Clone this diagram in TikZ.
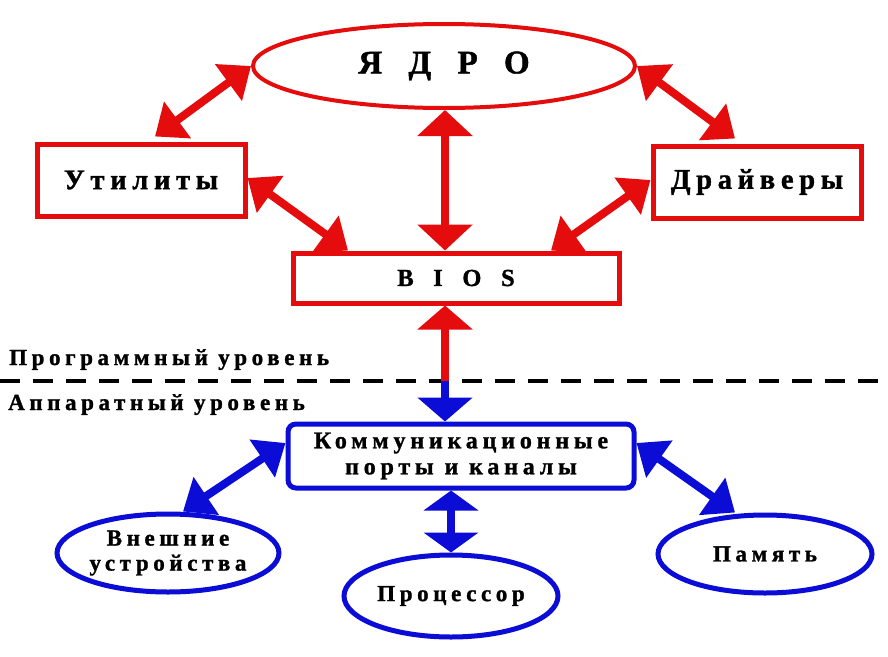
\documentclass[tikz,border=0pt]{standalone}
\usepackage{fontspec}
\setmainfont{Liberation Serif}
\newfontfamily\lblfont[LetterSpace=20,FakeBold=1.2]{Liberation Serif}
\newfontfamily\spacedfont[LetterSpace=80,FakeBold=1.2]{Liberation Serif}
\usetikzlibrary{shapes.geometric,arrows.meta,positioning}
\definecolor{schemered}{RGB}{228,12,12}
\definecolor{schemeblue}{RGB}{12,12,215}
\tikzset{
  redbox/.style={draw=schemered,line width=5pt,rectangle,inner sep=0pt,
    minimum width=208pt,minimum height=72pt,font=\lblfont\bfseries\fontsize{28.5}{30}\selectfont},
  blueoval/.style={ellipse,draw=schemeblue,line width=5pt,inner sep=0pt,
    minimum width=214pt,minimum height=78pt,align=center,
    font=\lblfont\bfseries\fontsize{23}{25}\selectfont},
  dblred/.style={draw=schemered,line width=8pt,
    {Triangle[width=44pt,length=28pt]}-{Triangle[width=44pt,length=28pt]}},
  dblblue/.style={draw=schemeblue,line width=8pt,
    {Triangle[width=44pt,length=28pt]}-{Triangle[width=44pt,length=28pt]}},
  level/.style={font=\lblfont\bfseries\fontsize{23}{25}\selectfont,anchor=base west,inner sep=0pt}
}
\begin{document}
\begin{tikzpicture}[x=1pt,y=-1pt,line cap=butt,line join=miter]
  \useasboundingbox[fill=white] (0,0) rectangle (888,656);
  % software level
  \node[ellipse,draw=schemered,line width=4pt,inner sep=0pt,minimum width=382pt,
    minimum height=84pt,font=\spacedfont\bfseries\fontsize{33}{35}\selectfont] (yadro) at (444,66) {ЯДРО};
  \node[redbox] (util) at (141,180) {Утилиты};
  \node[redbox] (drv) at (757,182) {Драйверы};
  \node[redbox,minimum width=326pt,minimum height=50pt,
    font=\spacedfont\bfseries\fontsize{24.5}{26}\selectfont] (bios) at (456,278) {BIOS};
  \draw[dblred] (yadro.west) -- ([xshift=14pt,yshift=5pt]util.north);
  \draw[dblred] (yadro.east) -- ([xshift=-22pt,yshift=5pt]drv.north);
  \draw[dblred] ([yshift=2pt]util.east) -- ([xshift=-108pt]bios.north);
  \draw[dblred] ([yshift=2pt]drv.west) -- ([xshift=95pt]bios.north);
  \draw[dblred,{Triangle[width=54pt,length=26pt]}-{Triangle[width=54pt,length=26pt]}]
    ([xshift=1pt]yadro.south) -- ([xshift=1pt]yadro.south |- bios.north);
  % border between levels
  \node[level] (prog) at (9,365) {Программный уровень};
  \draw[line width=4pt,dash pattern=on 20pt off 13pt] (0,381) -- (888,381);
  \node[level] (hard) at (8,410) {Аппаратный уровень};
  \coordinate (split) at (445,381);
  % hardware level
  \node[rectangle,rounded corners=8pt,draw=schemeblue,line width=5pt,inner sep=0pt,
    minimum width=346pt,minimum height=64pt,align=center,
    font=\lblfont\bfseries\fontsize{24}{26}\selectfont] (comm) at (461,456)
    {Коммуникационные\\порты и каналы};
  \node[blueoval] (ext) at (168,553) {Внешние\\устройства};
  \node[blueoval,minimum height=82pt] (proc) at (451,596) {Процессор};
  \node[blueoval] (mem) at (765,554) {Память};
  \draw[draw=schemered,line width=8pt,{Triangle[width=54pt,length=24pt]}-]
    (split |- bios.south) -- (split);
  \draw[draw=schemeblue,line width=8pt,-{Triangle[width=54pt,length=24pt]}]
    (split) -- (split |- comm.north);
  \draw[dblblue] ([yshift=13pt]comm.west) -- ([xshift=15pt]ext.north);
  \draw[dblblue] ([yshift=13pt]comm.east) -- ([xshift=-30pt]mem.north);
  \draw[dblblue,{Triangle[width=54pt,length=20pt]}-{Triangle[width=54pt,length=20pt]}]
    (comm.south -| proc.north) -- (proc.north);
\end{tikzpicture}
\end{document}
